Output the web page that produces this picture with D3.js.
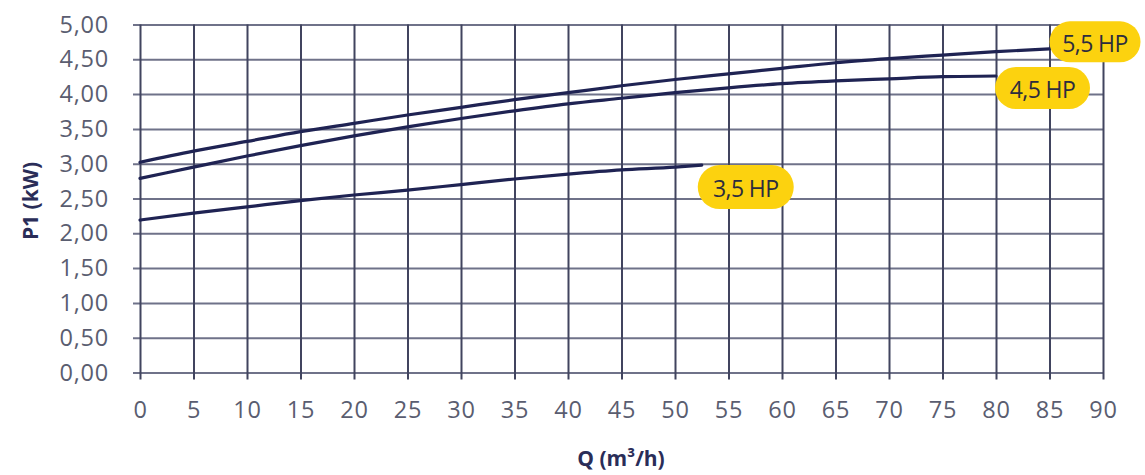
<!DOCTYPE html>
<html>
<head>
<meta charset="utf-8">
<script src="https://cdn.jsdelivr.net/npm/d3@7"></script>
<style>
  html, body { margin: 0; padding: 0; background: #ffffff; }
  svg { display: block; }
</style>
</head>
<body>
<svg id="chart" width="1145" height="475"></svg>
<script>
// ---- data ----
const xTicks = [0, 5, 10, 15, 20, 25, 30, 35, 40, 45, 50, 55, 60, 65, 70, 75, 80, 85, 90];
const yTicks = [0, 0.5, 1, 1.5, 2, 2.5, 3, 3.5, 4, 4.5, 5];

const q55 = [0, 5, 10, 15, 20, 25, 30, 35, 40, 45, 50, 55, 60, 65, 70, 75, 80, 85];
const p55 = [3.02, 3.18, 3.32, 3.46, 3.58, 3.70, 3.81, 3.92, 4.02, 4.12, 4.21, 4.29, 4.37, 4.45, 4.51, 4.56, 4.61, 4.65];

const q45 = [0, 5, 10, 15, 20, 25, 30, 35, 40, 45, 50, 55, 60, 65, 70, 75, 80];
const p45 = [2.79, 2.95, 3.11, 3.26, 3.40, 3.53, 3.65, 3.76, 3.86, 3.94, 4.02, 4.09, 4.15, 4.19, 4.22, 4.25, 4.26];

const q35 = [0, 5, 10, 15, 20, 25, 30, 35, 40, 45, 50, 52.5];
const p35 = [2.19, 2.29, 2.38, 2.47, 2.55, 2.62, 2.70, 2.78, 2.85, 2.91, 2.95, 2.98];

const seriesNames = ["5,5 HP", "4,5 HP", "3,5 HP"];

const xTitle = "Q (m³/h)";
const yTitle = "P1 (kW)";

// ---- chart ----
const svg = d3.select("#chart");
const x = d3.scaleLinear().domain([0, 90]).range([140, 1103]);
const y = d3.scaleLinear().domain([0, 5]).range([372.5, 24.5]);

const fmtY = d => d3.format(".2f")(d).replace(".", ",");

const tickFont = "'Open Sans', 'Noto Sans', sans-serif";

// horizontal grid (via axis)
const gy = svg.append("g")
  .attr("transform", `translate(${x(90)},0)`)
  .call(d3.axisLeft(y).tickValues(yTicks).tickSize(x(90) - x(0) + 7).tickFormat(fmtY).tickPadding(24));
gy.select(".domain").remove();
gy.selectAll(".tick line").attr("stroke", "#6f7289").attr("stroke-width", 2);
gy.selectAll(".tick text")
  .attr("font-family", tickFont).attr("font-size", 23.5).attr("fill", "#5a5d70")
  .attr("letter-spacing", 0.8);

// vertical grid (via axis)
const gx = svg.append("g")
  .attr("transform", `translate(0,${y(5)})`)
  .call(d3.axisBottom(x).tickValues(xTicks).tickSize(y(0) - y(5) + 7).tickFormat(d3.format("d")).tickPadding(22));
gx.select(".domain").remove();
gx.selectAll(".tick line").attr("stroke", "#41445f").attr("stroke-width", 2);
gx.selectAll(".tick text")
  .attr("font-family", tickFont).attr("font-size", 23.5).attr("fill", "#5a5d70")
  .attr("letter-spacing", 0.8);

// curves
const line = d3.line().x(d => x(d[0])).y(d => y(d[1])).curve(d3.curveMonotoneX);
const seriesData = [
  d3.zip(q55, p55),
  d3.zip(q45, p45),
  d3.zip(q35, p35)
];
seriesData.forEach(s => {
  svg.append("path").attr("d", line(s))
    .attr("fill", "none").attr("stroke", "#1f2353").attr("stroke-width", 3.2)
    .attr("stroke-linecap", "round");
});

// labels (yellow pills at curve ends)
const pillOffsets = [
  { dx: 0, dy: -7, w: 91, h: 41 },
  { dx: -1, dy: 12, w: 95, h: 42 },
  { dx: -4, dy: 22, w: 96, h: 44 }
];
seriesData.forEach((s, i) => {
  const end = s[s.length - 1];
  const o = pillOffsets[i];
  const cx = x(end[0]) + o.dx + o.w / 2;
  const cy = y(end[1]) + o.dy;
  svg.append("rect")
    .attr("x", cx - o.w / 2).attr("y", cy - o.h / 2)
    .attr("width", o.w).attr("height", o.h)
    .attr("rx", o.h / 2).attr("fill", "#fcd20f");
  svg.append("text")
    .attr("x", cx).attr("y", cy + 1)
    .attr("text-anchor", "middle").attr("dominant-baseline", "central")
    .attr("font-family", tickFont).attr("font-size", 23).attr("font-weight", 500)
    .attr("fill", "#2d2c3e").attr("letter-spacing", -0.6)
    .text(seriesNames[i]);
});

// axis titles
svg.append("text")
  .attr("x", 621).attr("y", 458)
  .attr("text-anchor", "middle").attr("dominant-baseline", "central")
  .attr("font-family", tickFont).attr("font-weight", 700).attr("font-size", 21)
  .attr("fill", "#2a2d58")
  .text(xTitle);

svg.append("text")
  .attr("transform", "translate(30,201) rotate(-90)")
  .attr("text-anchor", "middle").attr("dominant-baseline", "central")
  .attr("font-family", tickFont).attr("font-weight", 700).attr("font-size", 21)
  .attr("fill", "#2a2d58")
  .text(yTitle);
</script>
</body>
</html>
